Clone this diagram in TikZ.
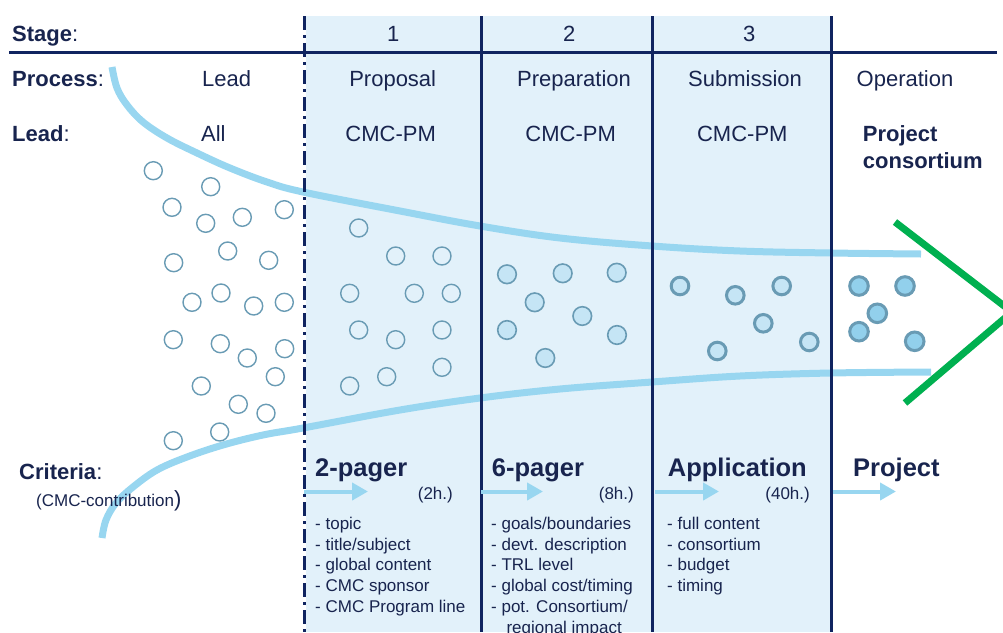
\documentclass[tikz,border=0pt]{standalone}
\usepackage{fontspec}
\setmainfont{Liberation Sans}
\usetikzlibrary{arrows.meta}
\definecolor{navy}{RGB}{16,36,96}
\definecolor{txt}{RGB}{24,36,78}
\definecolor{stagebg}{RGB}{226,241,250}
\definecolor{funnel}{RGB}{152,214,240}
\definecolor{ring}{RGB}{105,155,180}
\definecolor{prepfill}{RGB}{197,229,245}
\definecolor{opfill}{RGB}{146,208,236}
\definecolor{chev}{RGB}{0,176,80}
\begin{document}
\begin{tikzpicture}[x=1pt,y=-1pt,
  hdr/.style={font=\fontsize{22}{26}\selectfont, text=txt, inner sep=0, anchor=base},
  hdrl/.style={hdr, anchor=base west},
  crit/.style={font=\fontsize{25.5}{30}\selectfont\bfseries, text=txt, inner sep=0, anchor=base west},
  hours/.style={font=\fontsize{17}{20}\selectfont, text=txt, inner sep=0, anchor=base east},
  blist/.style={font=\fontsize{17}{20.7}\selectfont, text=txt, inner sep=0, anchor=north west, align=left},
  gridline/.style={draw=navy, line width=3pt},
  funnelline/.style={draw=funnel, line width=7pt},
  stepflow/.style={draw=funnel, line width=4pt, -{Triangle[length=16pt,width=17pt]}},
  opencirc/.style={draw=ring, line width=1.4pt, fill=white},
  prepcirc/.style={draw=ring, line width=1.6pt, fill=prepfill},
  subcirc/.style={draw=ring, line width=3pt, fill=prepfill},
  opcirc/.style={draw=ring, line width=3pt, fill=opfill}
]
\useasboundingbox (0,0) rectangle (1003,632);
\begin{scope}
\clip (0,0) rectangle (1003,632);
% shaded stages
\fill[fill=stagebg] (306,16) rectangle (831,632);
% funnel curves
\draw[funnelline] plot[smooth, tension=0.6] coordinates {(112,67) (117,88) (127,105) (143,122) (167,138) (197,153) (230,168) (267,182) (303,192) (400,211) (480,226) (560,238) (652,246) (740,251) (831,253) (921,254)};
\draw[funnelline] plot[smooth, tension=0.6] coordinates {(102,538) (106,520) (116,503) (133,487) (157,470) (187,457) (223,445) (263,435) (303,428) (400,410) (480,398) (560,389) (652,382) (740,376) (831,373) (931,372)};
% grid lines
\draw[gridline] (9,52) -- (997,52);
\draw[draw=navy, line width=3pt, dash pattern=on 14pt off 5pt on 3pt off 5pt] (304,16) -- (304,632);
\draw[gridline] (481,16) -- (481,632);
\draw[gridline] (652,16) -- (652,632);
\draw[gridline] (831,16) -- (831,632);
% chevron
\draw[draw=chev, line width=7pt] (895,222) -- (1012,312) -- (905,403);
% circles: lead zone
\foreach \p in {(153.3,170.7),(210.7,186.7),(172,207.3),(205.7,223.3),(242.3,217.3),(284.3,209.7),(173.7,262.7),(227.7,251),(268.7,260.3),(192,302.3),(221,293),(253.7,306),(284.3,302.3),(173.3,339.7),(220.3,343.7),(247.3,358),(284.7,348.7),(275.3,376.7),(201.3,386),(238.3,404.3),(266,413.3),(219.7,432),(173.3,440.7)}
  \draw[opencirc] \p circle (9);
% proposal zone
\foreach \p in {(358.7,228),(395.7,256),(442,256),(349.7,293.3),(414.3,293.3),(451.3,293.3),(358.7,330),(395.7,339.7),(442,330),(349.7,386),(386.7,376.7),(442,367.3)}
  \draw[opencirc, fill=stagebg] \p circle (9);
% preparation zone
\foreach \p in {(507,274.3),(562.7,273.3),(616.7,272.7),(534.7,302.3),(582.3,316),(507,330),(617,335),(545.3,358)}
  \draw[prepcirc] \p circle (9.3);
% submission zone
\foreach \p in {(680,286),(735.3,295.3),(781.7,286),(763.3,323.3),(809.3,342),(717.3,351)}
  \draw[subcirc] \p circle (8.8);
% operation zone
\foreach \p in {(859,286),(905,286),(877.3,313.3),(859,331.7),(914.7,341.3)}
  \draw[opcirc] \p circle (9.3);
\end{scope}
% header texts
\node[hdrl] (stage) at (12,41.7) {\textbf{Stage}:};
\node[hdr] (s1) at (393.3,41.7) {1};
\node[hdr] (s2) at (569.3,41.7) {2};
\node[hdr] (s3) at (749.3,41.7) {3};
\node[hdrl] (process) at (12,86.7) {\textbf{Process}:};
\node[hdr] (plead) at (226.7,86.7) {Lead};
\node[hdr] (pprop) at (392.7,86.7) {Proposal};
\node[hdr] (pprep) at (574,86.7) {Preparation};
\node[hdr] (psub) at (745,86.7) {Submission};
\node[hdr] (pop) at (905,86.7) {Operation};
\node[hdrl] (lead) at (12,141.7) {\textbf{Lead}:};
\node[hdr] (lall) at (213.3,141.7) {All};
\node[hdr] (l1) at (390.7,141.7) {CMC-PM};
\node[hdr] (l2) at (570.7,141.7) {CMC-PM};
\node[hdr] (l3) at (742.3,141.7) {CMC-PM};
\node[hdrl] (lproj) at (862.7,141.7) {\textbf{Project}};
\node[hdrl] (lcons) at (862.7,168.3) {\textbf{consortium}};
% criteria
\node[hdrl] (criteria) at (19,479.3) {\textbf{Criteria}:};
\node[font=\fontsize{17}{20}\selectfont, text=txt, inner sep=0, anchor=base west] (contrib) at (36,506) {(CMC-contribution{\fontsize{22}{22}\selectfont)}};
\node[crit] (c1) at (315,476.7) {2-pager};
\node[crit] (c2) at (491.7,476.7) {6-pager};
\node[crit] (c3) at (667.7,476.7) {Application};
\node[crit] (c4) at (853,476.7) {Project};
\node[hours] (h1) at (453,499) {(2h.)};
\node[hours] (h2) at (634,499) {(8h.)};
\node[hours] (h3) at (810,499) {(40h.)};
% step arrows
\coordinate (a1s) at (304,491.5); \coordinate (a1e) at (368,491.5);
\coordinate (a2s) at (481,491.5); \coordinate (a2e) at (543,491.5);
\coordinate (a3s) at (655,491.5); \coordinate (a3e) at (719,491.5);
\coordinate (a4s) at (833,491.5); \coordinate (a4e) at (896,491.5);
\draw[stepflow] (a1s) -- (a1e);
\draw[stepflow] (a2s) -- (a2e);
\draw[stepflow] (a3s) -- (a3e);
\draw[stepflow] (a4s) -- (a4e);
% lists
\node[blist] (list1) at (315,517) {- topic\\- title/subject\\- global content\\- CMC sponsor\\- CMC Program line};
\node[blist] (list2) at (491,517) {- goals/boundaries\\- devt. description\\- TRL level\\- global cost/timing\\- pot. Consortium/\\\hspace*{0.9em}regional impact};
\node[blist] (list3) at (667,517) {- full content\\- consortium\\- budget\\- timing};
\end{tikzpicture}
\end{document}
